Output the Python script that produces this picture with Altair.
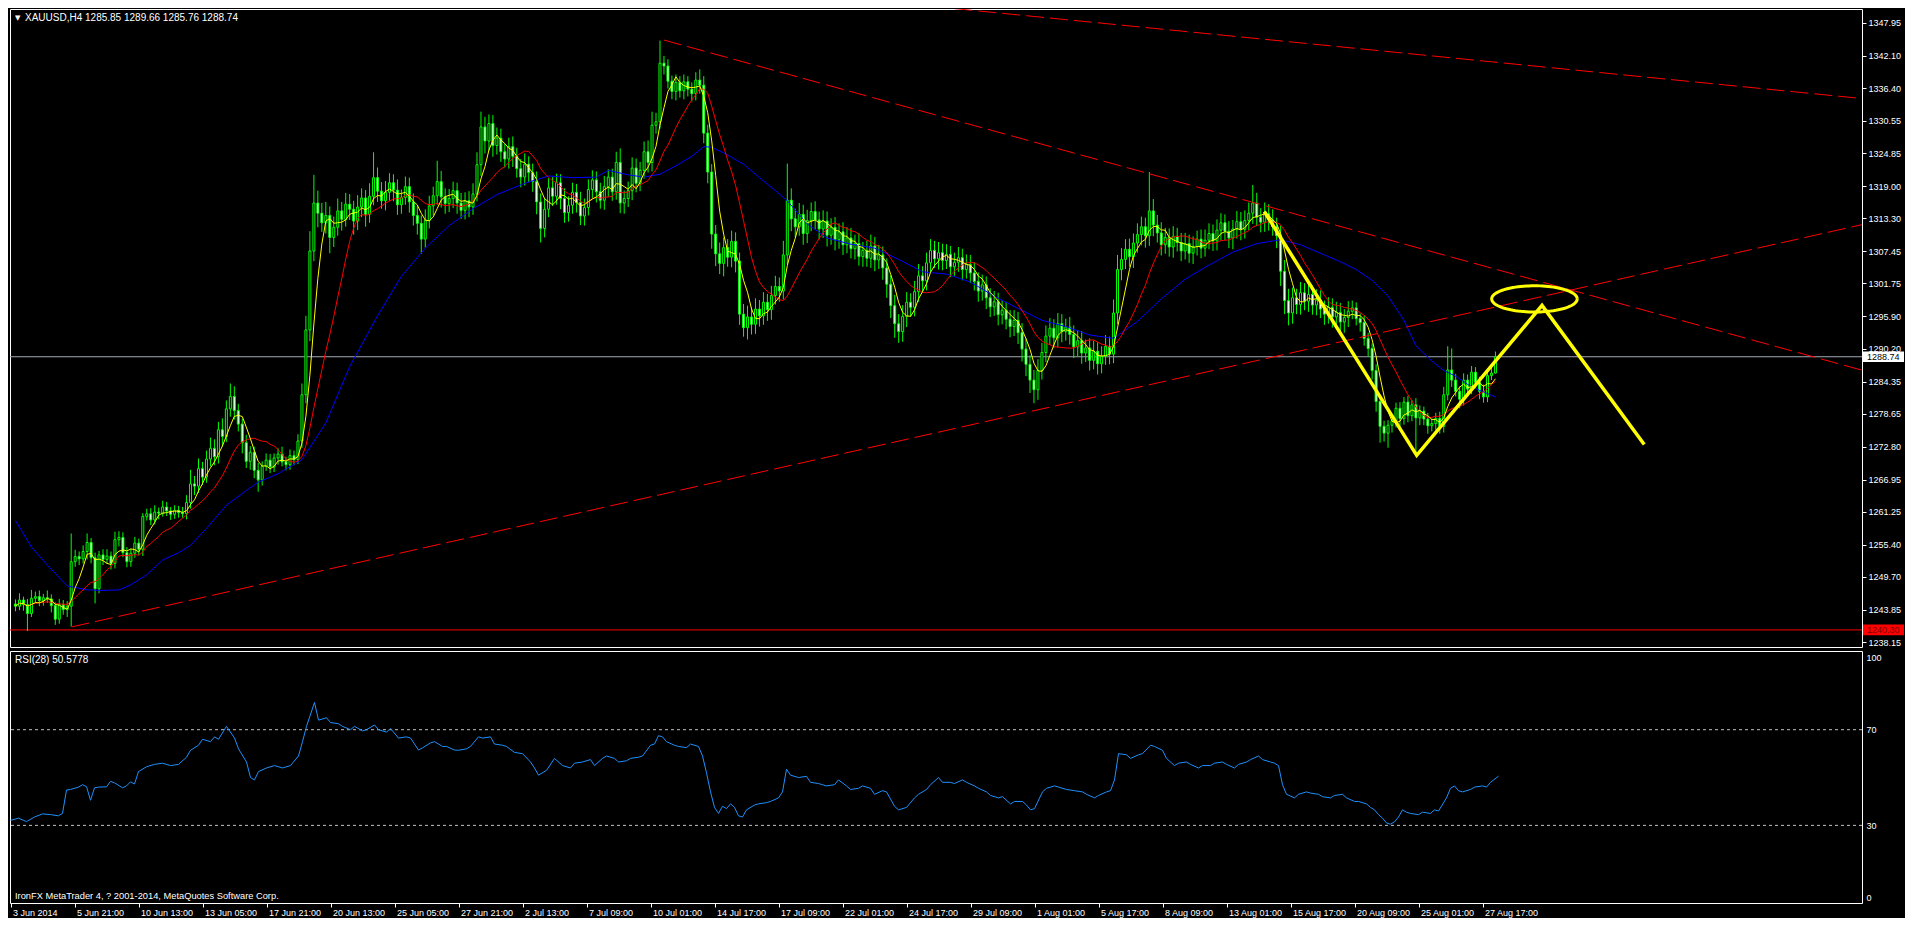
import altair as alt
import numpy as np
import pandas as pd

# ---------------- data ----------------
first_open = 1244.9
closes = [
1244.5, 1245.6, 1244.8, 1243.2, 1245.9, 1246.2, 1245.5, 1246.0, 1245.8, 1244.6,
1242.2, 1244.8, 1243.9, 1244.5, 1252.4, 1253.3, 1252.9, 1254.2, 1255.8, 1253.1,
1247.6, 1253.6, 1252.8, 1253.4, 1252.1, 1256.3, 1256.7, 1254.0, 1252.4, 1253.9,
1255.7, 1254.6, 1260.4, 1260.9, 1259.8, 1261.2, 1261.0, 1262.1, 1261.4, 1260.8,
1261.5, 1261.1, 1260.9, 1262.9, 1266.2, 1265.8, 1268.9, 1267.4, 1270.6, 1272.5,
1271.0, 1275.8, 1274.6, 1279.5, 1281.7, 1279.2, 1276.8, 1273.5, 1270.2, 1271.8,
1268.6, 1266.9, 1269.3, 1270.4, 1269.2, 1270.8, 1271.5, 1270.1, 1269.6, 1271.2,
1270.5, 1273.8, 1282.0, 1293.5, 1307.5, 1316.0, 1314.2, 1312.5, 1313.8, 1309.9,
1311.7, 1314.6, 1313.1, 1315.8, 1314.9, 1312.8, 1315.3, 1316.9, 1314.0, 1317.2,
1320.5, 1318.1, 1316.4, 1317.9, 1319.6, 1318.3, 1315.7, 1317.0, 1318.9, 1316.2,
1313.8, 1312.4, 1309.6, 1312.9, 1315.5, 1317.3, 1319.8, 1317.1, 1315.9, 1316.8,
1318.2, 1316.0, 1314.7, 1316.4, 1315.3, 1317.6, 1322.8, 1329.5, 1327.0, 1330.1,
1326.2, 1327.5, 1325.1, 1323.8, 1326.0, 1324.3, 1322.1, 1320.6, 1322.9, 1321.4,
1319.8, 1316.2, 1311.5, 1314.9, 1318.7, 1317.2, 1319.6, 1316.8, 1314.3, 1315.6,
1317.9, 1316.1, 1313.7, 1315.2, 1318.4, 1320.1, 1318.0, 1316.5, 1318.9, 1320.6,
1318.0, 1323.2, 1316.0, 1316.8, 1318.2, 1322.2, 1319.5, 1321.8, 1325.1, 1323.2,
1329.8, 1330.4, 1340.8, 1340.3, 1337.6, 1335.8, 1337.4, 1335.9, 1337.5, 1336.2,
1335.4, 1337.8, 1336.9, 1328.4, 1321.5, 1310.5, 1307.0, 1305.3, 1308.1, 1306.4,
1309.2, 1305.7, 1296.3, 1293.9, 1295.8, 1294.5, 1297.2, 1296.0, 1298.4, 1297.1,
1299.6, 1301.2, 1300.4, 1306.8, 1316.5, 1313.2, 1311.8, 1314.0, 1310.6, 1312.9,
1314.5, 1313.0, 1311.4, 1312.8, 1310.3, 1311.7, 1309.5, 1310.9, 1308.6, 1309.8,
1307.9, 1308.8, 1306.5, 1307.6, 1306.2, 1308.4, 1305.9, 1306.8, 1304.5, 1301.6,
1297.8, 1294.6, 1293.2, 1295.9, 1298.4, 1297.5, 1300.3, 1303.1, 1302.2, 1305.4,
1307.6, 1306.1, 1307.2, 1305.8, 1306.9, 1304.7, 1305.5, 1306.3, 1304.2, 1305.1,
1303.6, 1302.1, 1300.4, 1301.5, 1299.2, 1297.6, 1298.5, 1296.2, 1297.0, 1295.4,
1294.1, 1295.2, 1293.0, 1290.1, 1287.4, 1284.6, 1282.9, 1286.3, 1289.5, 1292.4,
1293.8, 1292.1, 1294.6, 1293.2, 1294.0, 1292.7, 1290.5, 1291.6, 1289.4, 1290.3,
1288.1, 1289.7, 1287.5, 1288.8, 1290.6, 1289.2, 1296.5, 1304.2, 1306.0, 1307.8,
1306.5, 1308.9, 1310.4, 1311.8, 1310.2, 1314.6, 1312.1, 1310.7, 1308.6, 1309.9,
1308.2, 1310.1, 1309.0, 1307.5, 1308.8, 1307.1, 1308.3, 1309.6, 1308.0, 1309.4,
1310.6, 1309.3, 1311.2, 1312.5, 1311.0, 1309.8, 1311.4, 1312.7, 1311.3, 1312.9,
1314.2, 1316.0, 1313.5, 1312.6, 1314.1, 1313.0, 1311.8, 1310.2, 1303.9, 1298.7,
1296.5, 1299.2, 1298.0, 1300.1, 1298.6, 1299.8, 1297.9, 1298.8, 1297.2, 1296.3,
1297.5, 1295.8, 1296.6, 1294.9, 1295.7, 1296.8, 1297.4, 1295.5, 1294.8, 1292.0,
1290.2, 1286.3, 1280.8, 1276.4, 1275.2, 1276.6, 1277.4, 1279.6, 1277.8, 1280.7,
1278.3, 1280.2, 1277.9, 1279.1, 1277.7, 1276.5, 1276.9, 1277.8, 1276.4, 1282.0,
1286.4, 1284.6, 1282.6, 1281.2, 1284.6, 1283.0, 1286.0, 1284.2, 1282.6, 1281.6,
1285.4, 1285.85, 1288.74]

# upper / lower wick lengths beyond the candle body
up_wick = [
0.8,1.2,0.6,1.0,1.5,0.9,1.1,0.7,1.3,0.8, 0.6,1.0,0.8,0.9,5.0,1.2,0.9,1.1,1.6,0.8,
0.9,0.7,1.0,1.2,0.8,1.4,1.1,0.9,1.0,0.8, 1.1,0.8,0.6,0.9,1.0,1.2,0.8,1.1,0.9,0.7,
0.9,0.8,1.0,1.3,2.5,1.4,1.8,1.2,1.5,1.9, 1.6,1.4,2.0,1.5,2.3,1.8,1.2,1.0,1.4,1.1,
1.0,1.3,0.9,1.2,1.1,0.8,1.0,1.3,0.9,1.1, 0.9,1.2,2.0,2.5,3.5,5.0,2.2,1.8,2.4,1.6,
1.9,2.2,1.6,2.0,1.8,1.5,2.1,1.7,1.4,2.3, 4.5,1.8,1.6,2.0,1.7,1.5,1.9,1.4,1.8,1.6,
1.5,1.7,1.4,2.0,1.8,1.6,3.7,1.9,1.5,1.7, 1.6,1.4,1.8,1.5,1.7,1.9,2.2,2.7,1.8,1.6,
1.5,1.9,1.7,1.4,1.6,1.8,1.5,1.7,1.9,1.4, 1.6,1.8,1.5,2.0,1.7,1.9,1.6,1.5,1.8,1.6,
1.7,1.5,1.9,1.6,1.8,1.7,1.5,1.6,1.9,1.4, 1.5,1.9,2.5,1.4,1.6,1.9,1.7,1.5,1.8,2.0,
2.4,1.6,4.0,1.3,1.2,1.0,1.4,1.1,1.3,1.0, 1.2,1.4,1.9,1.6,1.5,1.4,1.6,2.0,1.8,1.5,
1.9,1.6,1.5,1.8,2.0,1.7,1.9,1.6,1.8,1.5, 1.7,1.9,1.6,2.5,6.5,2.1,1.8,2.0,1.7,1.9,
1.6,1.8,1.5,1.9,1.7,1.6,1.8,1.5,1.7,1.9, 1.8,1.6,1.9,1.5,1.7,2.0,1.6,1.8,1.5,1.7,
1.6,1.9,1.7,2.0,1.8,1.6,1.9,2.1,1.7,1.8, 2.0,1.7,1.9,1.6,1.8,1.5,1.7,1.9,1.6,1.8,
1.7,1.9,1.6,1.8,1.5,1.7,1.9,1.6,1.8,1.5, 1.6,1.8,1.5,1.7,1.9,1.6,1.8,2.0,1.7,1.9,
1.8,1.6,1.9,1.7,1.5,1.8,1.6,1.9,1.7,1.5, 1.7,1.9,1.6,1.8,2.0,1.7,2.4,2.6,2.0,1.8,
1.9,1.7,2.0,1.8,1.6,6.9,2.1,1.8,1.9,1.7, 1.6,1.8,1.5,1.7,1.9,1.6,1.8,1.5,1.7,1.9,
1.8,1.6,1.9,1.7,1.5,1.8,1.6,1.9,1.7,1.8, 1.9,3.2,1.8,1.6,2.0,1.7,1.9,1.6,1.8,2.0,
2.1,1.8,1.6,1.9,1.7,1.8,1.6,1.9,1.7,1.5, 1.8,1.6,1.9,1.7,1.5,1.8,1.3,1.0,0.9,1.2,
1.0,0.9,1.1,0.8,1.0,0.9,1.2,1.0,1.1,0.9, 1.1,0.9,1.2,1.0,0.8,1.1,0.9,1.0,1.2,1.4,
4.2,3.8,1.1,0.9,1.2,1.0,1.1,0.9,1.0,1.2, 0.8,0.9,0.92]
dn_wick = [
0.9,0.7,1.1,3.1,0.6,0.8,1.0,0.9,0.7,1.2, 1.0,0.8,0.9,1.3,3.6,0.9,1.1,0.8,1.4,1.0,
2.6,0.8,1.0,0.7,1.1,0.9,1.2,0.8,1.0,0.9, 0.8,1.0,1.2,0.7,0.9,0.8,1.1,0.6,0.9,1.0,
0.8,0.9,0.7,1.0,1.1,1.6,1.2,1.4,1.0,1.3, 1.5,1.2,1.8,1.0,1.4,1.6,1.3,1.9,1.2,1.5,
1.4,2.1,1.0,0.8,1.1,0.9,1.2,0.8,1.0,0.9, 1.0,0.8,1.2,1.5,2.0,1.8,2.5,1.6,1.9,2.8,
1.7,1.5,2.0,1.3,1.9,2.4,1.6,1.8,2.2,1.5, 1.6,1.9,1.4,1.7,1.5,2.0,1.8,1.6,1.3,1.9,
1.8,2.0,2.6,1.5,1.4,1.7,1.6,1.9,1.8,1.5, 1.7,1.9,1.5,1.6,1.8,1.4,1.3,2.0,2.2,1.7,
2.0,1.6,1.8,1.5,1.7,1.9,1.6,1.8,1.5,1.7, 1.8,2.2,2.5,1.6,1.4,1.7,1.5,1.9,1.8,1.6,
1.5,1.8,1.6,1.7,1.4,1.6,1.9,1.5,1.7,1.8, 1.6,1.4,1.8,1.9,1.5,1.7,1.6,1.4,1.5,1.8,
1.6,1.5,1.2,1.5,1.3,1.4,1.6,1.2,1.5,1.3, 1.4,1.2,1.5,1.8,2.0,2.6,2.2,1.9,2.3,1.7,
1.8,2.0,1.9,1.6,2.1,1.8,1.7,1.9,1.6,2.0, 1.8,1.6,1.9,1.5,1.7,2.2,1.9,1.6,2.0,1.7,
1.9,1.7,1.8,1.6,2.0,1.7,1.9,1.6,1.8,1.5, 1.7,1.9,1.6,1.8,1.5,1.7,2.0,1.6,2.1,2.4,
2.2,2.5,2.0,1.8,1.9,1.7,1.6,1.8,2.0,1.7, 1.8,1.6,1.9,1.7,1.5,1.8,1.6,1.7,1.9,1.6,
1.8,1.6,1.9,1.7,2.0,1.8,1.6,1.9,1.7,1.8, 1.9,1.7,2.0,2.2,2.1,2.3,2.4,1.8,1.6,1.7,
1.6,1.8,1.7,1.9,1.6,1.8,2.0,1.7,1.9,1.6, 1.8,1.6,1.9,1.7,1.5,1.8,1.6,2.0,1.9,1.7,
1.8,2.0,1.7,1.9,2.1,1.8,2.0,1.7,1.9,1.6, 1.7,1.9,1.6,1.8,1.5,1.7,1.9,1.6,1.8,1.5,
1.6,1.8,1.7,1.9,1.6,1.8,2.0,1.7,1.9,1.6, 1.7,1.9,1.6,1.8,1.7,1.9,1.6,2.2,2.6,2.4,
2.2,1.9,1.7,1.8,1.6,1.9,1.7,1.8,1.6,1.9, 1.7,1.9,1.6,1.8,1.9,1.7,1.4,1.2,1.6,1.3,
1.4,1.6,1.8,2.9,1.5,2.6,1.3,1.2,1.5,1.1, 1.2,1.0,6.4,1.3,1.1,1.4,1.0,1.2,1.3,1.1,
1.0,1.2,0.9,1.6,1.1,1.3,0.9,1.2,1.4,1.0, 0.9,0.8,0.09]

# slow (blue) moving average, read at sample bars
blue_bars = [0, 4, 8, 13, 18, 22, 26, 29, 33, 37, 41, 44, 48, 53, 58, 61, 66, 72, 78,
             84, 91, 97, 103, 109, 115, 121, 128, 134, 140, 146, 149, 154, 158, 162,
             166, 170, 173, 175, 178, 183, 187, 191, 194, 199, 204, 210, 216, 222, 228,
             234, 240, 246, 252, 258, 264, 270, 276, 282, 288, 294, 300, 306, 312, 318,
             323, 329, 333, 337, 341, 345, 349, 352, 356, 359, 362, 366, 372]
blue_vals = [1259.7, 1255.0, 1251.8, 1248.1, 1247.4, 1247.3, 1247.4, 1248.3, 1250.1,
             1252.7, 1254.0, 1255.3, 1258.3, 1262.4, 1265.0, 1266.5, 1268.0, 1270.5,
             1277.0, 1287.0, 1296.0, 1303.0, 1308.0, 1312.0, 1315.0, 1317.5, 1319.5,
             1320.8, 1320.5, 1320.6, 1321.8, 1321.0, 1320.6, 1321.1, 1322.6, 1324.3,
             1326.0, 1325.9, 1324.9, 1322.9, 1320.5, 1318.2, 1316.4, 1312.3, 1309.8,
             1308.7, 1308.0, 1306.0, 1303.8, 1303.4, 1302.0, 1299.5, 1297.3, 1295.2,
             1294.1, 1292.6, 1292.0, 1295.0, 1299.0, 1302.5, 1305.0, 1307.3, 1308.8,
             1309.5, 1308.6, 1306.8, 1305.6, 1304.2, 1302.3, 1299.5, 1295.2, 1290.7,
             1288.0, 1286.3, 1285.3, 1283.4, 1281.6]

# RSI(28), read at sample bars
rsi_bars = [0, 2, 4, 6, 8, 10, 12, 13, 14, 15, 17, 18, 19, 20, 21, 22, 24, 25, 26, 28,
            29, 30, 31, 32, 34, 36, 38, 40, 42, 44, 45, 47, 48, 50, 51, 52, 54, 56, 57,
            59, 60, 61, 62, 64, 66, 68, 70, 72, 73, 74, 76, 77, 79, 80, 82, 83, 85, 86,
            88, 89, 91, 92, 94, 95, 97, 99, 100, 102, 103, 105, 106, 108, 109, 111, 112,
            114, 115, 117, 118, 120, 121, 123, 124, 126, 128, 130, 131, 132, 134, 136,
            138, 140, 141, 143, 145, 146, 148, 149, 151, 152, 154, 155, 157, 158, 160,
            161, 162, 163, 164, 166, 167, 169, 170, 172, 173, 174, 175, 176, 177, 178,
            179, 180, 181, 182, 183, 184, 186, 187, 189, 190, 192, 193, 194, 195, 197,
            199, 200, 202, 203, 204, 206, 207, 209, 210, 212, 213, 215, 216, 218, 219,
            220, 221, 222, 224, 226, 227, 229, 230, 232, 233, 235, 236, 238, 239, 241,
            242, 244, 245, 247, 248, 250, 251, 253, 254, 255, 256, 258, 259, 261, 262,
            264, 266, 268, 269, 271, 272, 274, 275, 276, 277, 279, 280, 282, 283, 285,
            286, 288, 289, 291, 292, 294, 295, 297, 298, 300, 301, 303, 304, 306, 307,
            309, 310, 312, 313, 315, 316, 317, 318, 319, 321, 322, 324, 325, 327, 328,
            330, 331, 333, 334, 336, 337, 339, 340, 341, 342, 343, 344, 345, 346, 347,
            348, 349, 350, 352, 353, 355, 356, 357, 359, 360, 361, 362, 363, 365, 366,
            368, 369, 370, 372]
rsi_vals = [32.1, 33.0, 31.6, 33.5, 34.8, 34.5, 34.0, 35.0, 44.8, 45.0, 46.0, 47.0,
            46.2, 40.5, 45.7, 46.0, 46.1, 48.4, 47.8, 45.7, 46.5, 48.2, 47.3, 52.5,
            54.5, 55.5, 56.0, 55.0, 55.5, 58.5, 61.4, 63.5, 66.0, 65.0, 67.0, 66.0,
            71.4, 66.5, 62.0, 56.5, 50.0, 49.0, 52.5, 54.0, 55.0, 54.0, 55.0, 59.0,
            65.0, 71.4, 81.4, 74.0, 75.0, 73.0, 72.5, 71.4, 70.0, 71.4, 69.5, 70.0,
            72.0, 70.0, 69.0, 70.5, 66.5, 67.0, 66.5, 61.5, 62.4, 64.5, 65.0, 63.0,
            63.0, 61.5, 61.4, 62.0, 63.0, 67.0, 66.5, 67.0, 64.0, 63.5, 63.0, 60.5,
            60.0, 56.5, 54.0, 51.0, 53.0, 58.0, 55.0, 54.0, 56.0, 56.5, 57.5, 55.0,
            58.0, 59.0, 58.0, 56.5, 57.0, 58.0, 58.5, 59.0, 63.5, 64.0, 67.5, 67.0,
            65.0, 63.5, 63.0, 62.5, 64.0, 63.0, 59.0, 52.0, 44.0, 37.5, 35.0, 38.0,
            37.0, 39.0, 37.5, 34.0, 33.5, 36.5, 38.5, 39.0, 39.5, 40.0, 41.5, 44.0,
            53.5, 51.0, 50.0, 50.5, 48.0, 47.5, 47.0, 46.5, 47.0, 49.0, 46.5, 45.0,
            45.5, 46.5, 45.5, 43.0, 44.5, 44.0, 41.0, 38.0, 36.5, 37.5, 41.5, 43.0,
            45.0, 47.0, 50.0, 48.0, 48.0, 47.5, 49.0, 48.0, 46.5, 45.5, 44.0, 42.5,
            41.5, 42.0, 39.0, 40.0, 40.0, 38.5, 36.5, 37.0, 44.0, 45.5, 46.5, 46.0,
            45.0, 44.5, 44.0, 43.0, 41.5, 42.5, 44.0, 44.5, 49.0, 60.0, 59.5, 58.0,
            59.5, 60.0, 63.5, 63.0, 61.4, 58.0, 55.0, 56.0, 56.5, 55.5, 54.0, 55.0,
            55.0, 56.0, 56.5, 55.5, 54.0, 55.5, 56.5, 57.5, 59.0, 57.5, 56.5, 56.0,
            55.0, 47.0, 43.0, 41.5, 43.0, 44.0, 43.5, 43.0, 42.0, 41.5, 42.5, 43.0,
            41.5, 40.0, 40.0, 39.0, 37.5, 36.5, 34.5, 33.0, 31.0, 30.5, 31.5, 33.5,
            36.5, 35.5, 35.0, 34.5, 35.5, 35.0, 36.5, 36.0, 41.5, 45.5, 46.5, 44.5,
            44.0, 45.0, 46.0, 46.5, 46.0, 48.0, 50.58]

price_ticks = [1347.95, 1342.10, 1336.40, 1330.55, 1324.85, 1319.00, 1313.30, 1307.45,
               1301.75, 1295.90, 1290.20, 1284.35, 1278.65, 1272.80, 1266.95, 1261.25,
               1255.40, 1249.70, 1243.85, 1238.15]
rsi_ticks = [0, 30, 70, 100]
rsi_levels = [30, 70]
time_labels = ["3 Jun 2014", "5 Jun 21:00", "10 Jun 13:00", "13 Jun 05:00", "17 Jun 21:00",
               "20 Jun 13:00", "25 Jun 05:00", "27 Jun 21:00", "2 Jul 13:00", "7 Jul 09:00",
               "10 Jul 01:00", "14 Jul 17:00", "17 Jul 09:00", "22 Jul 01:00", "24 Jul 17:00",
               "29 Jul 09:00", "1 Aug 01:00", "5 Aug 17:00", "8 Aug 09:00", "13 Aug 01:00",
               "15 Aug 17:00", "20 Aug 09:00", "25 Aug 01:00", "27 Aug 17:00"]
label_step = 16

bid_price = 1288.74
low_price = 1240.30
header_text = "XAUUSD,H4  1285.85 1289.66 1285.76 1288.74"
rsi_text = "RSI(28) 50.5778"
copyright_text = "IronFX MetaTrader 4, ? 2001-2014, MetaQuotes Software Corp."

# drawn objects (in bar / price units)
trend_bars = [[163, 467.5], [200, 467.5], [14.1, 467.5]]
trend_vals = [[1344.9, 1285.7], [1353.0, 1334.3], [1240.83, 1312.7]]
zig_bars = [313.9, 352.2, 383.7, 409.4]
zig_vals = [1314.5, 1271.25, 1297.84, 1273.17]
ell_center = (381.8, 1299.0)
ell_radius = (10.75, 2.33)

# ---------------- layout ----------------
W, H1, H2 = 1852, 638, 252
XDOM = [-0.125, 462.875]
YDOM = [1237.27, 1350.41]
RDOM = [-2.45, 102.9]
FONT = "Liberation Sans"
TXT = "#ffffff"
GREEN = "#00ff00"

xs = alt.Scale(domain=XDOM, nice=False, zero=False)
ys = alt.Scale(domain=YDOM, nice=False, zero=False)
rs = alt.Scale(domain=RDOM, nice=False, zero=False)

n = len(closes)
assert len(up_wick) == n and len(dn_wick) == n, (n, len(up_wick), len(dn_wick))
opens = [first_open] + closes[:-1]
highs = [max(o, c) + u for o, c, u in zip(opens, closes, up_wick)]
lows = [min(o, c) - d for o, c, d in zip(opens, closes, dn_wick)]
candles = pd.DataFrame({"bar": list(range(n)), "open": opens, "close": closes,
                        "high": highs, "low": lows})

X = alt.X("bar:Q", scale=xs, axis=None)

price_axis = alt.Axis(orient="right", values=price_ticks, format=".2f", tickSize=4,
                      tickColor=TXT, tickWidth=1, labelColor=TXT, labelFont=FONT,
                      labelFontSize=9, labelPadding=2, domain=False, grid=False,
                      labelOverlap=False, labelFlush=False, title=None)


def PY(field):
    return alt.Y(field, scale=ys, axis=price_axis, title=None)


bid_rule = alt.Chart(pd.DataFrame({"p": [bid_price]})).mark_rule(
    color="#a3a9b3", strokeWidth=1).encode(y=PY("p:Q"))
low_rule = alt.Chart(pd.DataFrame({"p": [low_price]})).mark_rule(
    color="#ff0000", strokeWidth=1).encode(y=PY("p:Q"))

wicks = alt.Chart(candles).mark_rule(color=GREEN, strokeWidth=1).encode(
    x=X, y=PY("low:Q"), y2="high:Q")
bodies = alt.Chart(candles).mark_bar(size=2, stroke=GREEN, strokeWidth=1).encode(
    x=X, y=PY("open:Q"), y2="close:Q",
    fill=alt.condition("datum.close < datum.open", alt.value("#ffffff"), alt.value("#000000")))

sma_fast = alt.Chart(candles).transform_window(
    ma="mean(close)", frame=[-4, 0], sort=[alt.SortField("bar")]
).mark_line(color="#ffff00", strokeWidth=1).encode(x=X, y=PY("ma:Q"))
sma_mid = alt.Chart(candles).transform_window(
    ma="mean(close)", frame=[-12, 0], sort=[alt.SortField("bar")]
).mark_line(color="#ff0000", strokeWidth=1).encode(x=X, y=PY("ma:Q"))
blue_df = pd.DataFrame({"bar": blue_bars, "v": blue_vals})
sma_slow = alt.Chart(blue_df).mark_line(color="#0000ff", strokeWidth=1).encode(
    x=X, y=PY("v:Q"))

trend_rows = []
for k, (bb, vv) in enumerate(zip(trend_bars, trend_vals)):
    for b, v in zip(bb, vv):
        trend_rows.append({"id": k, "bar": b, "p": v})
trends = alt.Chart(pd.DataFrame(trend_rows)).mark_line(
    color="#ff0000", strokeWidth=1, strokeDash=[18, 6], clip=True).encode(
    x=X, y=PY("p:Q"), detail="id:N")

zig = alt.Chart(pd.DataFrame({"i": range(len(zig_bars)), "bar": zig_bars, "p": zig_vals})).mark_line(
    color="#ffff00", strokeWidth=3.5, strokeJoin="miter", clip=True).encode(
    x=X, y=PY("p:Q"), order="i:Q")

t = np.linspace(0, 2 * np.pi, 97)
ell_df = pd.DataFrame({"i": range(len(t)),
                       "bar": ell_center[0] + ell_radius[0] * np.cos(t),
                       "p": ell_center[1] + ell_radius[1] * np.sin(t)})
ellipse = alt.Chart(ell_df).mark_line(color="#ffff00", strokeWidth=3, clip=True).encode(
    x=X, y=PY("p:Q"), order="i:Q")

tags = pd.DataFrame({"p": [bid_price, low_price], "txt": ["1288.74", "1240.30"],
                     "bg": ["#ffffff", "#ff0000"], "fg": ["#000000", "#7a0000"]})
tag_box = alt.Chart(tags).transform_calculate(
    p1="datum.p - 0.95", p2="datum.p + 0.95").mark_rect().encode(
    x=alt.value(W + 1), x2=alt.value(W + 42),
    y=PY("p1:Q"), y2="p2:Q",
    fill=alt.Color("bg:N", scale=None))
tag_txt = alt.Chart(tags).mark_text(align="left", baseline="middle", font=FONT, fontSize=9).encode(
    x=alt.value(W + 5), y=PY("p:Q"), text="txt:N",
    color=alt.Color("fg:N", scale=None))

hdr = alt.Chart(pd.DataFrame({"t": [header_text]})).mark_text(
    align="left", baseline="alphabetic", font=FONT, fontSize=10, color=TXT).encode(
    x=alt.value(15), y=alt.value(12), text="t:N")
tri = alt.Chart(pd.DataFrame({"t": ["\u25BC"]})).mark_text(
    align="left", baseline="alphabetic", font="DejaVu Sans", fontSize=7, color=TXT).encode(
    x=alt.value(5), y=alt.value(11), text="t:N")

main = alt.layer(bid_rule, low_rule, wicks, bodies, sma_slow, sma_mid, sma_fast,
                 trends, zig, ellipse, tag_box, tag_txt, hdr, tri).properties(width=W, height=H1)

# ---------------- RSI panel ----------------
lbl_expr = "[" + ",".join("'" + s + "'" for s in time_labels) + "][round(datum.value / %d)]" % label_step
x_axis = alt.Axis(values=[i * label_step for i in range(len(time_labels))], labelExpr=lbl_expr,
                  tickSize=4, tickColor=TXT, tickWidth=1, labelColor=TXT, labelFont=FONT,
                  labelFontSize=9, labelAlign="left", labelBaseline="top", labelPadding=1,
                  labelOffset=2, labelFlush=False, labelOverlap=False, domain=False,
                  grid=False, title=None)
rsi_axis = alt.Axis(orient="right", values=rsi_ticks, tickSize=0, labelColor=TXT,
                    labelFont=FONT, labelFontSize=9, labelPadding=4, domain=False,
                    grid=False, labelOverlap=False, labelFlush=False, title=None)


def RY(field):
    return alt.Y(field, scale=rs, axis=rsi_axis, title=None)


rsi_df = pd.DataFrame({"bar": rsi_bars, "v": rsi_vals})
rsi_line = alt.Chart(rsi_df).mark_line(color="#1e90ff", strokeWidth=1).encode(
    x=alt.X("bar:Q", scale=xs, axis=x_axis), y=RY("v:Q"))
levels = alt.Chart(pd.DataFrame({"lv": rsi_levels})).mark_rule(
    color="#c0c0c0", strokeWidth=1, strokeDash=[3, 3]).encode(y=RY("lv:Q"))
rsi_hdr = alt.Chart(pd.DataFrame({"t": [rsi_text]})).mark_text(
    align="left", baseline="alphabetic", font=FONT, fontSize=10, color=TXT).encode(
    x=alt.value(5), y=alt.value(12), text="t:N")
copy_txt = alt.Chart(pd.DataFrame({"t": [copyright_text]})).mark_text(
    align="left", baseline="alphabetic", font=FONT, fontSize=9.3, color=TXT).encode(
    x=alt.value(5), y=alt.value(H2 - 4), text="t:N")

rsi = alt.layer(levels, rsi_line, rsi_hdr, copy_txt).properties(width=W, height=H2)

chart = alt.vconcat(main, rsi, spacing=2).resolve_scale(
    x="independent", y="independent").properties(
    padding=0, background="#000000").configure_view(stroke="#ffffff", strokeWidth=1)

chart.save("out.html", embed_options={"renderer": "svg", "actions": False})
